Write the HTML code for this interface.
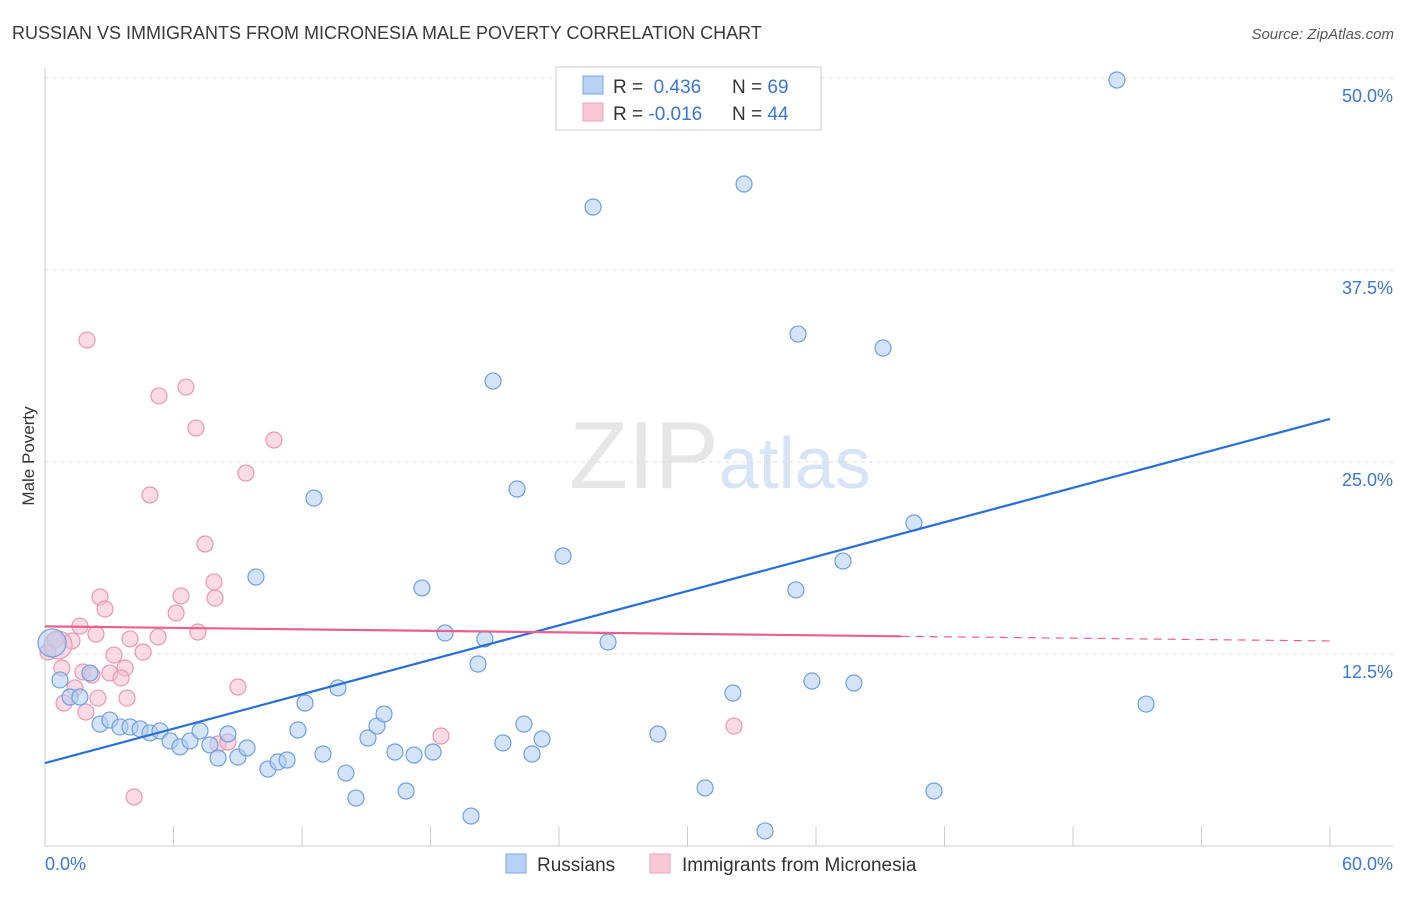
<!DOCTYPE html>
<html><head><meta charset="utf-8"><style>
body{margin:0;background:#fff;font-family:"Liberation Sans",sans-serif;}
svg text{font-family:"Liberation Sans",sans-serif;}
</style></head><body>
<svg id="chart" width="1406" height="892" xmlns="http://www.w3.org/2000/svg">
<text x="12" y="39" font-size="18" fill="#3a3a3a">RUSSIAN VS IMMIGRANTS FROM MICRONESIA MALE POVERTY CORRELATION CHART</text>
<text x="1394" y="39" font-size="15" fill="#555" text-anchor="end" font-style="italic">Source: ZipAtlas.com</text>
<text x="720" y="488" font-size="96" text-anchor="middle" fill="#e6e6e6" font-family="Liberation Serif"><tspan>ZIP</tspan><tspan fill="#d6e4f5" font-family="Liberation Sans" font-size="72">atlas</tspan></text>
<text transform="translate(34,456) rotate(-90)" font-size="17" fill="#333" text-anchor="middle">Male Poverty</text>
<g id="grid"></g><g id="axes"></g><g id="marks"></g>
<g>
<rect x="556" y="67" width="265" height="63" fill="#fff" stroke="#ccc"/>
<rect x="583" y="76" width="20" height="18" fill="#b8d2f5" stroke="#7aa7e0"/>
<rect x="583" y="103" width="20" height="18" fill="#f9c8d6" stroke="#eda0b8"/>
<text x="613" y="93" font-size="19" fill="#333">R = <tspan fill="#3a78d0">&#160;0.436</tspan><tspan x="732">N = </tspan><tspan fill="#3a78d0">69</tspan></text>
<text x="613" y="120" font-size="19" fill="#333">R = <tspan fill="#3a78d0">-0.016</tspan><tspan x="732">N = </tspan><tspan fill="#3a78d0">44</tspan></text>
</g>
<g>
<rect x="506" y="854" width="20" height="19" fill="#b8d2f5" stroke="#7aa7e0"/>
<text x="537" y="871" font-size="19" fill="#333">Russians</text>
<rect x="650" y="854" width="20" height="19" fill="#f9c8d6" stroke="#eda0b8"/>
<text x="682" y="871" font-size="19" fill="#333">Immigrants from Micronesia</text>
</g>
</svg>
<script>
const blueX=[50.05,32.64,25.59,35.16,39.13,20.92,22.04,12.56,40.57,24.19,37.26,9.85,17.60,35.06,18.68,20.54,26.29,20.22,35.81,37.77,32.12,51.41,13.68,12.14,0.70,1.17,1.63,2.10,2.57,3.03,3.50,3.97,4.44,4.90,5.37,5.84,6.30,6.77,7.24,7.70,8.08,8.54,9.01,9.43,10.41,10.88,11.30,11.81,12.98,14.05,14.52,15.08,15.50,15.83,16.34,16.86,17.23,18.12,19.89,21.38,22.36,22.74,23.21,28.62,30.82,33.62,41.51,26.71];
const blueY=[49.87,43.1,41.6,33.33,32.42,30.27,23.24,22.65,21.03,18.88,18.55,17.51,16.80,16.67,13.87,13.48,13.28,11.85,10.74,10.61,9.96,9.24,10.29,9.31,10.81,9.70,9.70,11.26,7.94,8.20,7.75,7.75,7.62,7.36,7.49,6.84,6.45,6.84,7.49,6.58,5.73,7.29,5.79,6.38,5.01,5.47,5.60,7.55,5.99,4.75,3.12,7.03,7.81,8.59,6.12,3.58,5.92,6.12,1.95,6.71,7.94,5.99,6.97,7.29,3.78,0.98,3.58,49.87];
const pinkX=[1.96,6.58,5.32,7.05,10.69,9.38,4.90,7.47,7.89,7.94,2.57,6.35,2.80,6.12,1.63,2.38,3.97,5.28,7.14,1.26,0.47,0.14,3.22,4.58,0.79,1.77,3.03,3.74,2.19,3.55,1.40,9.01,0.89,2.47,3.83,1.91,8.08,8.54,18.49,32.17,4.16];
const pinkY=[32.94,29.88,29.30,27.21,26.43,24.28,22.85,19.66,17.19,16.14,16.21,16.28,15.43,15.17,14.32,13.80,13.48,13.61,13.93,13.35,13.41,12.63,12.43,12.63,11.59,11.33,11.26,11.59,11.13,10.94,10.29,10.35,9.31,9.63,9.63,8.72,6.64,6.77,7.16,7.81,3.19];
const bigBlue=[0.33,13.22], bigPink=[0.61,13.09];
const blueLine=[[0,5.4],[60,27.8]];
const pinkLine=[[0,14.3],[40,13.65],[60,13.35]];
const yTicks=[12.5,25,37.5,50], yTickLabels=["12.5%","25.0%","37.5%","50.0%"];
const xTicks=[0,6,12,18,24,30,36,42,48,54,60];
const NS="http://www.w3.org/2000/svg";
const sx=v=>45+v/60*1285, sy=v=>846-v/12.5*192;
function mk(tag,attrs,parent){const e=document.createElementNS(NS,tag);for(const k in attrs)e.setAttribute(k,attrs[k]);document.getElementById(parent).appendChild(e);return e;}
yTicks.forEach((t,i)=>{
 const g=mk('line',{x1:45,x2:1393,y1:sy(t),y2:sy(t),stroke:'#ddd','stroke-dasharray':'4,4'},'grid');
 
 
 const l=mk('text',{x:1393,y:sy(t)+24,'font-size':18,fill:'#3a78d0','text-anchor':'end'},'grid');
 l.textContent=yTickLabels[i];
 
 
});
let a=mk('line',{x1:45,x2:45,y1:68,y2:846,stroke:'#ccc'},'axes');


a=mk('line',{x1:45,x2:1393,y1:846,y2:846,stroke:'#ccc'},'axes');


xTicks.forEach(t=>{const e=mk('line',{x1:sx(t),x2:sx(t),y1:826,y2:846,stroke:'#ccc'},'axes');
 
 });
let t=mk('text',{x:45,y:870,'font-size':18,fill:'#3a78d0'},'axes');t.textContent='0.0%';


t=mk('text',{x:1393,y:870,'font-size':18,fill:'#3a78d0','text-anchor':'end'},'axes');t.textContent='60.0%';


function dot(x,y,r,f,s,name){const c=mk('circle',{cx:sx(x),cy:sy(y),r:r,fill:f,'fill-opacity':0.55,stroke:s,'stroke-width':1.2},'marks');
 
 }
pinkX.forEach((x,i)=>dot(x,pinkY[i],8,'#f6bccd','#e898b2','micronesia-point'));
dot(bigPink[0],bigPink[1],14,'#f6bccd','#e898b2','micronesia-point');
blueX.forEach((x,i)=>dot(x,blueY[i],8,'#b0cdf2','#6f9fdc','russians-point'));
dot(bigBlue[0],bigBlue[1],14,'#b0cdf2','#6f9fdc','russians-point');
let ln=mk('line',{x1:sx(blueLine[0][0]),y1:sy(blueLine[0][1]),x2:sx(blueLine[1][0]),y2:sy(blueLine[1][1]),stroke:'#2a6fd6','stroke-width':2.2},'marks');


ln=mk('line',{x1:sx(pinkLine[0][0]),y1:sy(pinkLine[0][1]),x2:sx(pinkLine[1][0]),y2:sy(pinkLine[1][1]),stroke:'#e8608e','stroke-width':2.2},'marks');


ln=mk('line',{x1:sx(pinkLine[1][0]),y1:sy(pinkLine[1][1]),x2:sx(pinkLine[2][0]),y2:sy(pinkLine[2][1]),stroke:'#e8608e','stroke-width':1.2,'stroke-dasharray':'8,6'},'marks');


</script>
</body></html>
